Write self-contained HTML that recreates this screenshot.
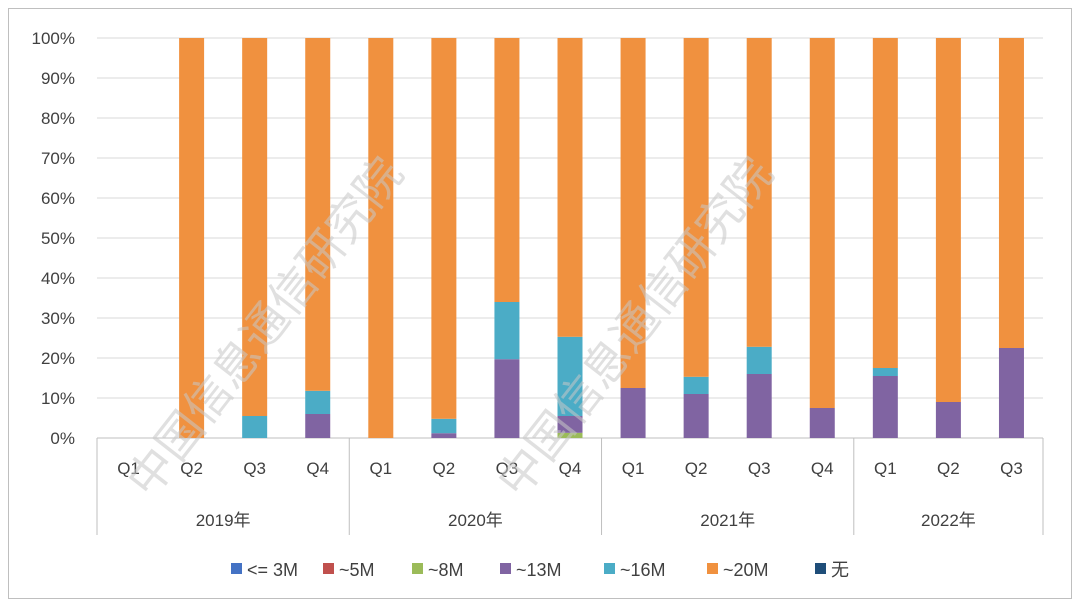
<!DOCTYPE html>
<html><head><meta charset="utf-8"><style>
body{margin:0;background:#fff;}
svg text{font-family:"Liberation Sans","Noto Sans CJK SC",sans-serif;}
</style></head><body>
<svg id="chart" width="1080" height="606" xmlns="http://www.w3.org/2000/svg">
<rect x="8.5" y="8.5" width="1063" height="590" fill="#fff" stroke="#bfbfbf"/>
<g id="grid"></g><g id="bars"></g><g id="axes"></g><g id="legend"></g>
<g fill="#c8c8c8" opacity="0.55" font-size="46">
<text transform="translate(150,500) rotate(-52)" font-family="Noto Serif CJK SC, serif">中国信息通信研究院</text>
<text transform="translate(520,500) rotate(-52)" font-family="Noto Serif CJK SC, serif">中国信息通信研究院</text>
</g>
</svg>
<script>
const quarters=["Q1","Q2","Q3","Q4","Q1","Q2","Q3","Q4","Q1","Q2","Q3","Q4","Q1","Q2","Q3"];
const years=["2019年","2020年","2021年","2022年"];
const yearCounts=[4,4,4,3];
const seriesNames=["<= 3M","~5M","~8M","~13M","~16M","~20M","无"];
const s3M=[0,0,0,0,0,0,0,0,0,0,0,0,0,0,0];
const s5M=[0,0,0,0,0,0,0,0,0,0,0,0,0,0,0];
const s8M=[0,0,0,0,0,0,0,1.3,0,0,0,0,0,0,0];
const s13M=[0,0,0,6,0,1.2,19.7,4.2,12.5,11,16,7.5,15.5,9,22.5];
const s16M=[0,0,5.5,5.8,0,3.6,14.3,19.8,0,4.3,6.8,0,2,0,0];
const s20M=[0,100,94.5,88.2,100,95.2,66,74.7,87.5,84.7,77.2,92.5,82.5,91,77.5];
const sNone=[0,0,0,0,0,0,0,0,0,0,0,0,0,0,0];
const yTicks=[0,10,20,30,40,50,60,70,80,90,100];
const colors=["#4472C4","#C0504D","#9BBB59","#8064A2","#4BACC6","#F0913F","#1F4E79"];
const series=[s3M,s5M,s8M,s13M,s16M,s20M,sNone];
const NS="http://www.w3.org/2000/svg";
const X0=97,X1=1043,Y0=438,Y1=38;
const slot=(X1-X0)/quarters.length;
const y=v=>Y0-(v/100)*(Y0-Y1);
const xc=i=>X0+slot*(i+0.5);
function mk(p,t,a){const e=document.createElementNS(NS,t);for(const k in a)e.setAttribute(k,a[k]);p.appendChild(e);return e;}
const grid=document.getElementById('grid'),bars=document.getElementById('bars'),axes=document.getElementById('axes'),legend=document.getElementById('legend');
yTicks.forEach(t=>{
 const l=mk(grid,'line',{x1:X0,x2:X1,y1:y(t),y2:y(t),stroke:t===0?'#bfbfbf':'#d9d9d9','stroke-width':1});
 
 
 const tx=mk(axes,'text',{x:75,y:y(t)+6,'text-anchor':'end','font-size':17,fill:'#404040'});
 tx.textContent=t+'%';
 
 
});
quarters.forEach((q,i)=>{
 let acc=0;
 series.forEach((s,k)=>{
  const v=s[i]; if(v<=0)return;
  const r=mk(bars,'rect',{x:xc(i)-12.5,width:25,y:y(acc+v),height:y(acc)-y(acc+v),fill:colors[k]});
  
  
  acc+=v;
 });
 const t=mk(axes,'text',{x:xc(i),y:474,'text-anchor':'middle','font-size':17,fill:'#404040'});
 t.textContent=q;
 
 
});
let start=0;
const b0=mk(axes,'line',{x1:X0,x2:X0,y1:Y0,y2:535,stroke:'#bfbfbf'});


years.forEach((yr,j)=>{
 const end=start+yearCounts[j];
 const xe=X0+slot*end;
 const l=mk(axes,'line',{x1:xe,x2:xe,y1:Y0,y2:535,stroke:'#bfbfbf'});
 
 
 const t=mk(axes,'text',{x:(X0+slot*start+xe)/2,y:526,'text-anchor':'middle','font-size':17,fill:'#404040'});
 t.textContent=yr;
 
 
 start=end;
});
const lx=[231,323,412,500,604,707,815];
seriesNames.forEach((n,k)=>{
 const g=mk(legend,'g',{});
 
 
 mk(g,'rect',{x:lx[k],y:563,width:11,height:11,fill:colors[k]});
 const t=mk(g,'text',{x:lx[k]+16,y:576,'font-size':18,fill:'#404040'});
 t.textContent=n;
});
</script>
</body></html>
